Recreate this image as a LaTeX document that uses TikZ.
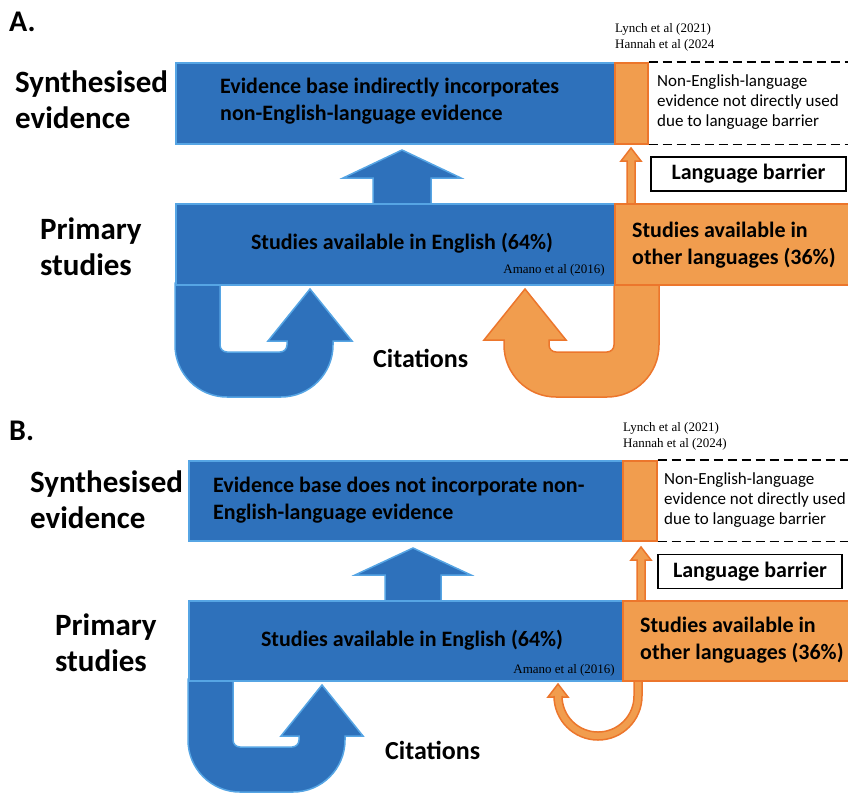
\documentclass[tikz,border=0pt]{standalone}
\usepackage{fontspec}
\setmainfont{Carlito}
\newfontfamily\citefont{Liberation Serif}
\usetikzlibrary{positioning}
\definecolor{bluefill}{RGB}{46,113,187}
\definecolor{bluedge}{RGB}{86,165,228}
\definecolor{orangefill}{RGB}{241,157,78}
\definecolor{orangedge}{RGB}{236,118,44}
\tikzset{blue box/.style={rectangle,draw=bluedge,fill=bluefill,line width=1.5pt,inner sep=0pt,anchor=north west},
  orange box/.style={rectangle,draw=orangedge,fill=orangefill,line width=1.5pt,inner sep=0pt,anchor=north west},
  blue arrow/.style={draw=bluedge,fill=bluefill,line width=1.5pt},
  orange arrow/.style={draw=orangedge,fill=orangefill,line width=1.5pt},
  cut edge/.style={draw=black,line width=1.9pt,dash pattern=on 9pt off 5pt},
  panel label/.style={font=\fontsize{30}{34}\selectfont\bfseries,anchor=west,inner sep=0pt},
  side label/.style={font=\fontsize{31}{36}\selectfont\bfseries,align=left,anchor=west,inner sep=0pt},
  box text/.style={font=\fontsize{22}{27}\selectfont\bfseries,align=left,anchor=west,inner sep=0pt},
  note text/.style={font=\fontsize{17}{20}\selectfont,align=left,anchor=west,inner sep=0pt},
  ref text/.style={font=\citefont\fontsize{13}{16}\selectfont,align=left,inner sep=0pt},
  barrier box/.style={draw=black,line width=1.2pt,fill=white,inner sep=0pt,font=\fontsize{22}{24}\selectfont\bfseries},
  cite label/.style={font=\fontsize{26}{28}\selectfont\bfseries,anchor=west,inner sep=0pt},}
\begin{document}
\begin{tikzpicture}[x=1pt,y=-1pt]
	\useasboundingbox (0,0) rectangle (848,793);

	% panel A
	\begin{scope}
    \node[panel label] (labA) at (9,21.5) {A.};
    \node[side label] (synthA) at (15,100) {Synthesised\\evidence};
    \node[side label] (primA) at (40,247) {Primary\\studies};

    % arrows go under the boxes
    \draw[blue arrow] (373,204) -- (373,178) -- (343,178) -- (402,150) -- (461,178) -- (431,178) -- (431,204) -- cycle;
    \draw[blue arrow] (175,283) -- (175,345) arc[start angle=180,end angle=90,radius=52] -- (281,397) arc[start angle=90,end angle=0,radius=52] -- (333,341) -- (352,341) -- (310,289) -- (268,341) -- (287,341) -- (287,345) arc[start angle=0,end angle=90,radius=7] -- (227,352) arc[start angle=90,end angle=180,radius=7] -- (220,283) -- cycle;
    \draw[orange arrow] (659,283) -- (659,345) arc[start angle=0,end angle=90,radius=52] -- (556,397) arc[start angle=90,end angle=180,radius=52] -- (504,340) -- (484,340) -- (525,289) -- (566,340) -- (549,340) -- (549,345) arc[start angle=180,end angle=90,radius=7] -- (607,352) arc[start angle=90,end angle=0,radius=7] -- (614,283) -- cycle;
    \draw[orange arrow] (627,204) -- (627,161) -- (621,161) -- (631,148) -- (641,161) -- (635,161) -- (635,204) -- cycle;

    \node[blue box,minimum width=439pt,minimum height=81pt] (synA) at (175,62) {};
    \node[orange box,minimum width=33pt,minimum height=81pt] (gapA) at (614,62) {};
    \draw[cut edge] (gapA.north east) -- +(210,0);
    \draw[cut edge] (gapA.south east) -- +(210,0);
    \node[blue box,minimum width=439pt,minimum height=81pt] (engA) at (175,203) {};
    \node[orange box,minimum width=236pt,minimum height=81pt] (othA) at (614,203) {};
    \node[barrier box,minimum width=195pt,minimum height=34pt] (barA) at (748.5,174) {Language barrier};

    \node[box text] (synAtext) at (220,101) {Evidence base indirectly incorporates\\non-English-language evidence};
    \node[note text] (notA) at (657,102) {Non-English-language\\evidence not directly used\\due to language barrier};
    \node[ref text,anchor=west] (refA) at (615,37) {Lynch et al (2021)\\Hannah et al (2024};
    \node[box text,anchor=center] (engAtext) at (402,243) {Studies available in English (64\%)};
    \node[ref text,anchor=east] (amanoA) at (605,270) {Amano et al (2016)};
    \node[box text] (othAtext) at (632,245) {Studies available in\\other languages (36\%)};
    \node[cite label] (citA) at (373,358) {Citations};
    \end{scope}

	% panel B
	\begin{scope}
    \node[panel label] (labB) at (9,431) {B.};
    \node[side label] (synthB) at (30,500) {Synthesised\\evidence};
    \node[side label] (primB) at (55,643) {Primary\\studies};

    % arrows go under the boxes
    \draw[blue arrow] (385,601) -- (385,575) -- (355,575) -- (413,548) -- (471,575) -- (441,575) -- (441,601) -- cycle;
    \draw[blue arrow] (188,679) -- (188,740) arc[start angle=180,end angle=90,radius=52] -- (293,792) arc[start angle=90,end angle=0,radius=52] -- (345,736) -- (363,736) -- (322,685) -- (281,736) -- (299,736) -- (299,740) arc[start angle=0,end angle=90,radius=7] -- (240,747) arc[start angle=90,end angle=180,radius=7] -- (233,679) -- cycle;
    \draw[orange arrow] (642,679) -- (642,696) arc[start angle=0,end angle=180,radius=44] -- (554,697) -- (548,697) -- (558,684) -- (568,697) -- (562,697) -- (562,696) arc[start angle=180,end angle=0,radius=36] -- (634,679) -- cycle;
    \draw[orange arrow] (637,601) -- (637,560) -- (631,560) -- (641,547) -- (651,560) -- (645,560) -- (645,601) -- cycle;

    \node[blue box,minimum width=434pt,minimum height=80pt] (synB) at (188,460) {};
    \node[orange box,minimum width=34pt,minimum height=80pt] (gapB) at (622,460) {};
    \draw[cut edge] (gapB.north east) -- +(200,0);
    \draw[cut edge] (gapB.south east) -- +(200,0);
    \node[blue box,minimum width=434pt,minimum height=80pt] (engB) at (188,600) {};
    \node[orange box,minimum width=228pt,minimum height=80pt] (othB) at (622,600) {};
    \node[barrier box,minimum width=184pt,minimum height=34pt] (barB) at (750,571.5) {Language barrier};

    \node[box text] (synBtext) at (213,500) {Evidence base does not incorporate non-\\English-language evidence};
    \node[note text] (notB) at (664,500) {Non-English-language\\evidence not directly used\\due to language barrier};
    \node[ref text,anchor=west] (refB) at (623,436) {Lynch et al (2021)\\Hannah et al (2024)};
    \node[box text,anchor=center] (engBtext) at (412,640) {Studies available in English (64\%)};
    \node[ref text,anchor=east] (amanoB) at (615,670) {Amano et al (2016)};
    \node[box text] (othBtext) at (640,640) {Studies available in\\other languages (36\%)};
    \node[cite label] (citB) at (385,750) {Citations};
    \end{scope}
\end{tikzpicture}
\end{document}
